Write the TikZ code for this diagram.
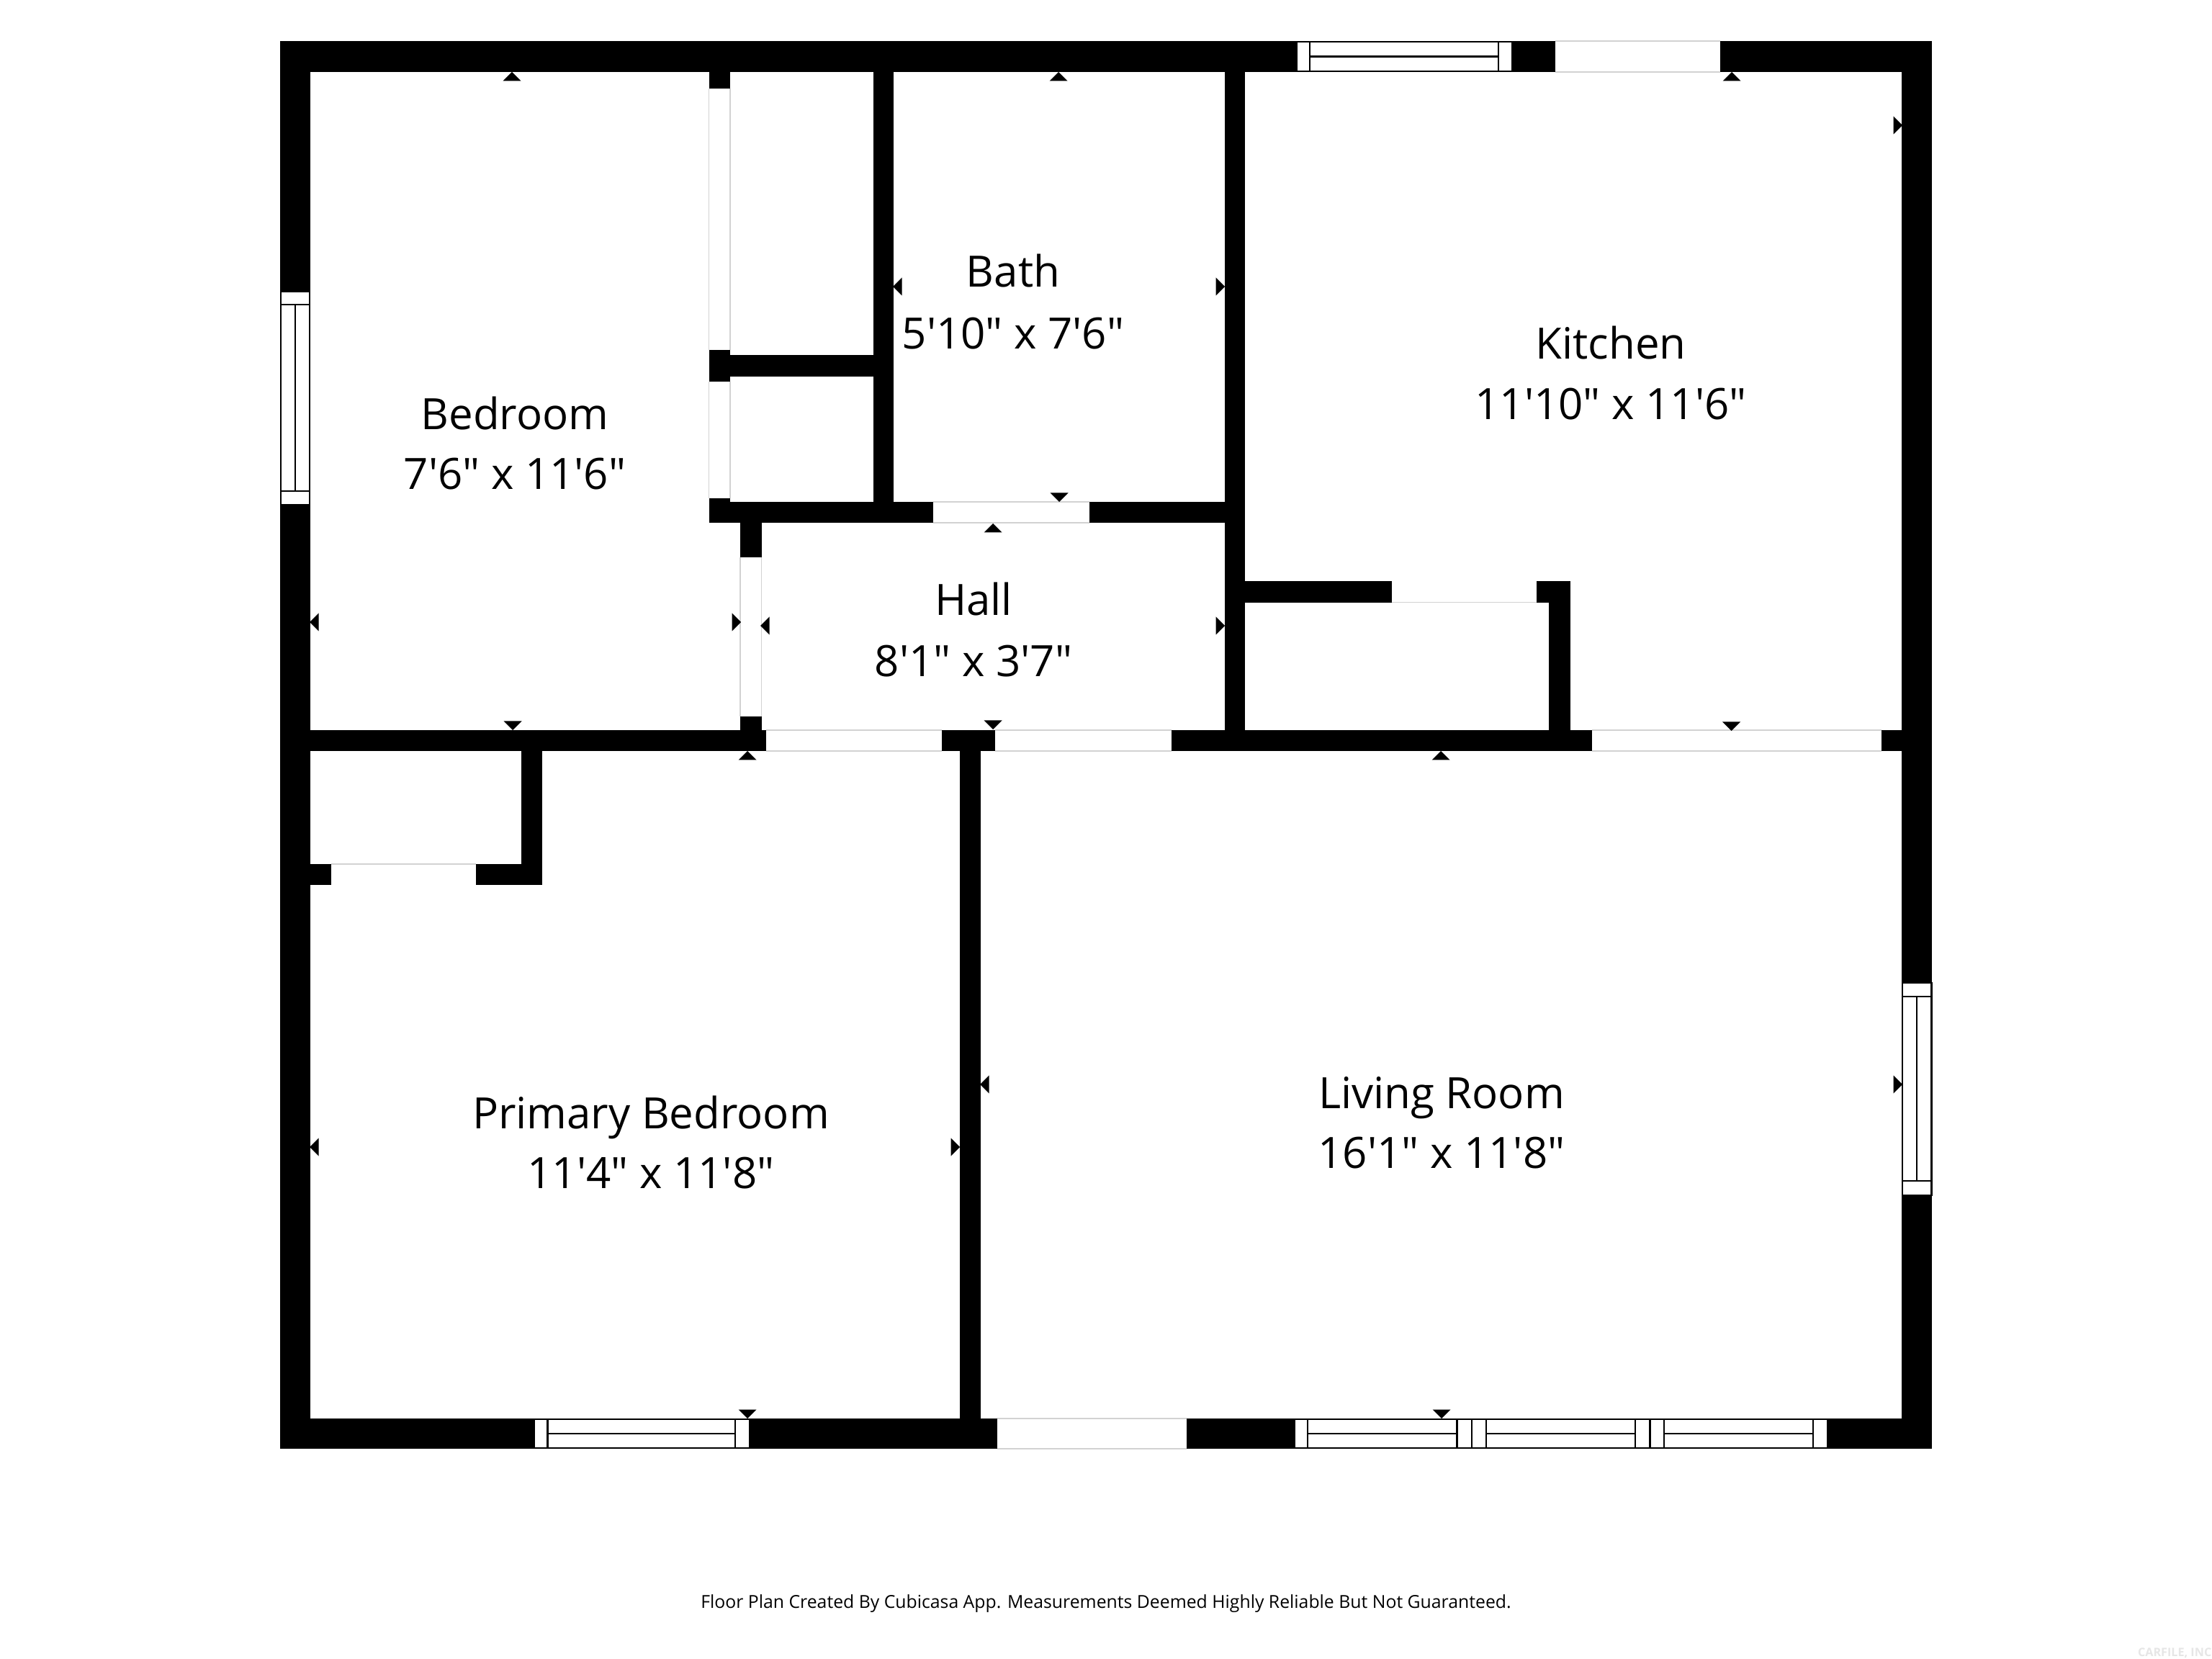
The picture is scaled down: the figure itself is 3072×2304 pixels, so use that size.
\documentclass[tikz,border=0pt]{standalone}
\usepackage{fontspec}
\newfontfamily\planfont{Open Sans}
\definecolor{doorgray}{HTML}{D2D2D2}
\definecolor{markgray}{HTML}{E6E6E6}
\tikzset{
  roomtext/.style={anchor=base,inner sep=0pt,font=\planfont\fontsize{17.05}{20}\selectfont,text=black},
  foottext/.style={anchor=base,inner sep=0pt,font=\planfont\fontsize{7.05}{9}\selectfont,text=black},
  marktext/.style={anchor=base east,inner sep=0pt,font=\planfont\bfseries\fontsize{4.6}{6}\selectfont,text=markgray},
  doorline/.style={draw=doorgray,line width=0.4pt},
  winframe/.style={draw=black,fill=white,line width=0.8pt},
  winline/.style={draw=black,line width=0.8pt}
}
\newcommand{\wall}[4]{\fill[black] (#1,#2) rectangle (#3,#4);}
\newcommand{\hdoor}[4]{\fill[white] (#1,#3) rectangle (#2,#4);\draw[doorline] (#1,#3) -- (#2,#3) (#1,#4) -- (#2,#4);}
\newcommand{\vdoor}[4]{\fill[white] (#3,#1) rectangle (#4,#2);\draw[doorline] (#3,#1) -- (#3,#2) (#4,#1) -- (#4,#2);}
% x1 xa xb x2 ytop ybot ymid
\newcommand{\hwin}[7]{\draw[winframe] (#1,#5) rectangle (#4,#6);\draw[winline] (#2,#5) -- (#2,#6) (#3,#5) -- (#3,#6) (#2,#7) -- (#3,#7);}
% y1 ya yb y2 xleft xright xmid
\newcommand{\vwin}[7]{\draw[winframe] (#5,#1) rectangle (#6,#4);\draw[winline] (#5,#2) -- (#6,#2) (#5,#3) -- (#6,#3) (#7,#2) -- (#7,#3);}
\newcommand{\tup}[2]{\fill[black] (#1,#2) -- ({#1-12.5},{#2+12.5}) -- ({#1+12.5},{#2+12.5}) -- cycle;}
\newcommand{\tdn}[2]{\fill[black] (#1,#2) -- ({#1-12.5},{#2-12.5}) -- ({#1+12.5},{#2-12.5}) -- cycle;}
\newcommand{\tlf}[2]{\fill[black] (#1,#2) -- ({#1+12.5},{#2-12.5}) -- ({#1+12.5},{#2+12.5}) -- cycle;}
\newcommand{\trt}[2]{\fill[black] (#1,#2) -- ({#1-12.5},{#2-12.5}) -- ({#1-12.5},{#2+12.5}) -- cycle;}
\begin{document}
\begin{tikzpicture}[x=0.01cm,y=-0.01cm]
\path[use as bounding box,fill=white] (0,0) rectangle (3072,2304);
% outer walls
\wall{389}{57}{2683}{100}
\wall{389}{1970}{2683}{2012}
\wall{389}{57}{431}{2012}
\wall{2641}{57}{2683}{2012}
% interior walls
\wall{431}{1014}{2641}{1043}
\wall{1701}{100}{1729}{1014}
\wall{1212.5}{100}{1241}{726}
\wall{984.5}{100}{1014}{530}
\wall{1014}{493.5}{1212.5}{523}
\wall{984.5}{692}{1014}{726}
\wall{984.5}{697}{1729}{726}
\wall{1028}{726}{1057.5}{1014}
\wall{1333}{1043}{1362}{1970}
\wall{1729}{807}{2180.6}{836.7}
\wall{2151}{807}{2180.6}{1014}
\wall{724}{1043}{753}{1229}
\wall{431}{1200}{753}{1229}
% doors
\hdoor{2160}{2389}{57}{100}
\hdoor{1385}{1648}{1970}{2012}
\vdoor{123}{486.5}{984.5}{1014}
\vdoor{530}{692}{984.5}{1014}
\hdoor{1296}{1513}{697}{726}
\vdoor{774}{995}{1028}{1057.5}
\hdoor{1063.5}{1308}{1014}{1043}
\hdoor{1382}{1626.5}{1014}{1043}
\hdoor{2210.6}{2613}{1014}{1043}
% closet openings
\fill[white] (1933,807) rectangle (2134,836.7);
\draw[doorline] (1933,836.7) -- (2134,836.7);
\fill[white] (459.5,1200) rectangle (661,1229);
\draw[doorline] (459.5,1200) -- (661,1200);
% windows
\hwin{1801}{1819}{2081}{2100}{58}{99}{78.7}
\hwin{742}{760.6}{1021}{1041}{1971}{2011}{1991}
\hwin{1797.6}{1816}{2023.5}{2044}{1971}{2011}{1991}
\hwin{2044}{2064}{2271}{2291.7}{1971}{2011}{1991}
\hwin{2291.7}{2311}{2518}{2538}{1971}{2011}{1991}
\vwin{405}{423}{682}{701}{390}{430}{410}
\vwin{1365}{1384}{1640}{1660}{2642}{2682.5}{2662}
% dimension marks
\tup{711}{100}\tup{1470}{100}\tup{2405}{100}\tup{1379}{727}\tup{1038}{1043}\tup{2001}{1043}
\tdn{712}{1014}\tdn{1379}{1013}\tdn{2404.5}{1015}\tdn{1471}{697}\tdn{1038}{1970}\tdn{2002}{1970}
\tlf{430}{864}\tlf{430}{1593}\tlf{1056}{869}\tlf{1240}{398}\tlf{1361}{1506}
\trt{1029}{864}\trt{1701}{869}\trt{1701}{398}\trt{2642}{174}\trt{1333}{1593}\trt{2642}{1506}
% labels
\node[roomtext] (bedA) at (715,597) {Bedroom};
\node[roomtext] (bedB) at (715,680) {7'6" x 11'6"};
\node[roomtext] (bathA) at (1407,399) {Bath};
\node[roomtext] (bathB) at (1407,485) {5'10" x 7'6"};
\node[roomtext] (kitA) at (2237,498.6) {Kitchen};
\node[roomtext] (kitB) at (2237,583) {11'10" x 11'6"};
\node[roomtext] (hallA) at (1352,855) {Hall};
\node[roomtext] (hallB) at (1352,940) {8'1" x 3'7"};
\node[roomtext] (priA) at (904,1567.5) {Primary Bedroom};
\node[roomtext] (priB) at (904,1650) {11'4" x 11'8"};
\node[roomtext] (livA) at (2002,1539) {Living Room};
\node[roomtext] (livB) at (2002,1622) {16'1" x 11'8"};
\node[foottext] (foot) at (1536,2233) {Floor Plan Created By Cubicasa App. Measurements Deemed Highly Reliable But Not Guaranteed.};
\node[marktext] (mark) at (3072,2300) {CARFILE, INC};
\end{tikzpicture}
\end{document}
